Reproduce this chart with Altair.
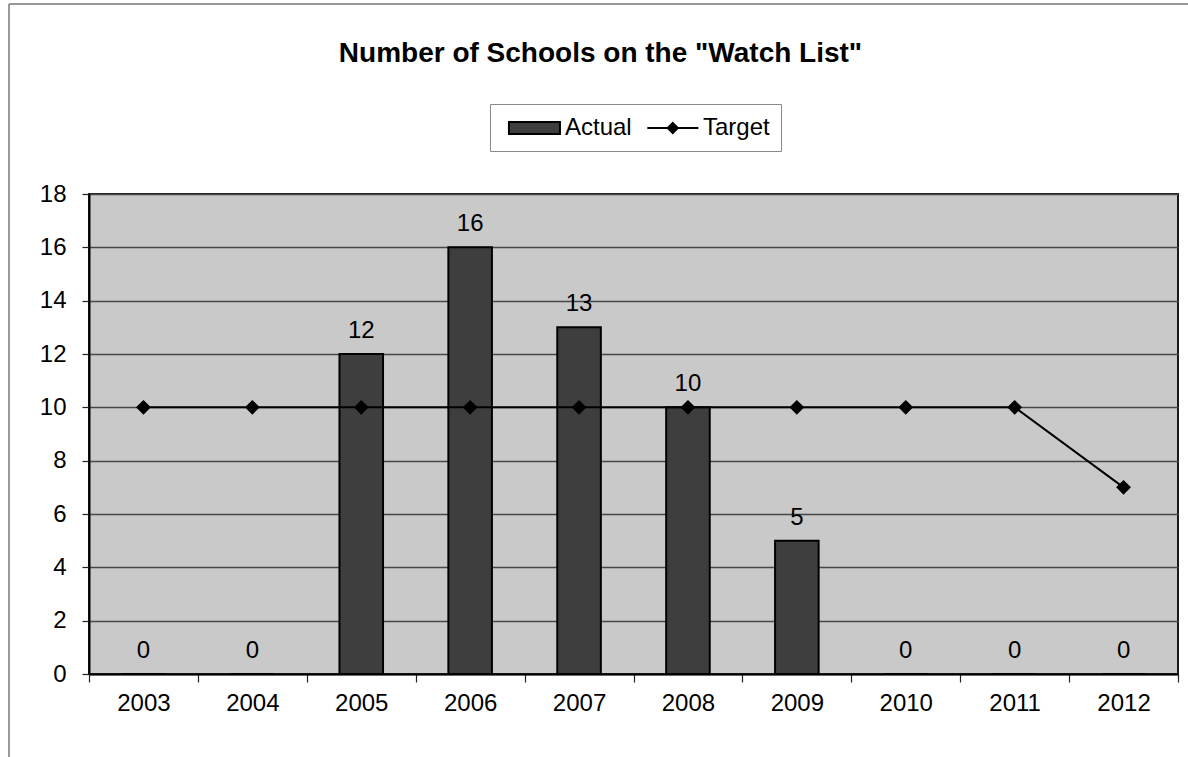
import altair as alt
import pandas as pd

# Chart values
years = ["2003", "2004", "2005", "2006", "2007", "2008", "2009", "2010", "2011", "2012"]
actual = [0, 0, 12, 16, 13, 10, 5, 0, 0, 0]
target = [10, 10, 10, 10, 10, 10, 10, 10, 10, 7]
series_names = ["Actual", "Target"]
y_ticks = [0, 2, 4, 6, 8, 10, 12, 14, 16, 18]

FONT = "Liberation Sans"

wide = pd.DataFrame({"year": years, "Actual": actual, "Target": target})
long = wide.melt("year", var_name="series", value_name="value")

# Legend symbols: a wide bar swatch, and a line with a diamond marker
bar_swatch = "M-0.42,-0.5 H3.83 V0.5 H-0.42 Z"
line_swatch = "M-0.39,0 H3.86 M1.73,-0.42 L2.15,0 L1.73,0.42 L1.31,0 Z"

x_enc = alt.X(
    "year:N",
    sort=years,
    title=None,
    scale=alt.Scale(paddingInner=0, paddingOuter=0),
    axis=alt.Axis(
        tickBand="extent",
        labelAngle=0,
        labelFont=FONT,
        labelFontSize=24,
        labelColor="black",
        labelPadding=9,
        tickSize=8,
        tickColor="#222222",
        tickWidth=1.2,
        domainColor="black",
        domainWidth=2,
        grid=False,
    ),
)
y_enc = alt.Y(
    "value:Q",
    title=None,
    scale=alt.Scale(domain=[0, 18], nice=False),
    axis=alt.Axis(
        values=y_ticks,
        labelFont=FONT,
        labelFontSize=24,
        labelColor="black",
        labelPadding=16,
        tickSize=7,
        tickColor="#222222",
        tickWidth=1.2,
        domainColor="black",
        domainWidth=2,
        gridColor="#474747",
        gridWidth=1.3,
    ),
)

base = alt.Chart(long).encode(x=x_enc, y=y_enc)

bars = base.transform_filter(alt.datum.series == "Actual").mark_bar(
    width=alt.RelativeBandSize(0.4), color="#3e3e3e", stroke="black", strokeWidth=2
)

bar_labels = base.transform_filter(alt.datum.series == "Actual").mark_text(
    font=FONT, fontSize=24, color="black", baseline="alphabetic", dy=-16
).encode(text="value:Q")

target_line = base.transform_filter(alt.datum.series == "Target").mark_line(
    color="black",
    strokeWidth=2,
    point=alt.OverlayMarkDef(shape="diamond", size=220, filled=True, color="black"),
)

# Layer that only carries the legend (no rows are drawn)
legend_layer = base.transform_filter("false").mark_point(
    filled=True, opacity=1, stroke="black", strokeWidth=2
).encode(
    color=alt.Color(
        "series:N",
        scale=alt.Scale(domain=series_names, range=["#3e3e3e", "#000000"]),
        legend=alt.Legend(
            orient="none",
            legendX=401,
            legendY=-90,
            direction="horizontal",
            title=None,
            labelFont=FONT,
            labelFontSize=24,
            labelColor="black",
            labelOffset=38,
            columnPadding=7,
            padding=11,
            symbolSize=576,
            symbolOpacity=1,
            symbolStrokeColor="black",
            symbolStrokeWidth=2,
            strokeColor="#8a8a8a",
            fillColor="white",
        ),
    ),
    shape=alt.Shape(
        "series:N",
        scale=alt.Scale(domain=series_names, range=[bar_swatch, line_swatch]),
    ),
)

# Outer frame of the chart area (top and left edges)
frame_top = alt.Chart(alt.Data(values=[{}])).mark_rule(color="#777777", strokeWidth=1.5).encode(
    x=alt.value(-80), x2=alt.value(1099), y=alt.value(-190)
)
frame_left = alt.Chart(alt.Data(values=[{}])).mark_rule(color="#777777", strokeWidth=1.5).encode(
    x=alt.value(-80), y=alt.value(-190), y2=alt.value(563)
)

chart = (
    alt.layer(bars, target_line, bar_labels, legend_layer, frame_top, frame_left)
    .properties(
        width=1089,
        height=480,
        padding={"left": 89, "top": 194, "right": 10, "bottom": 83},
        autosize=alt.AutoSizeParams(type="none"),
        title=alt.TitleParams(
            text='Number of Schools on the "Watch List"',
            font=FONT,
            fontSize=28,
            fontWeight="bold",
            color="black",
            anchor="middle",
            frame="group",
            baseline="alphabetic",
            dx=-33,
            dy=87,
            offset=0,
        ),
    )
    .configure_view(fill="#c9c9c9", stroke="#1a1a1a", strokeWidth=2)
)

chart.save("out.html", embed_options={"renderer": "svg", "actions": False})
